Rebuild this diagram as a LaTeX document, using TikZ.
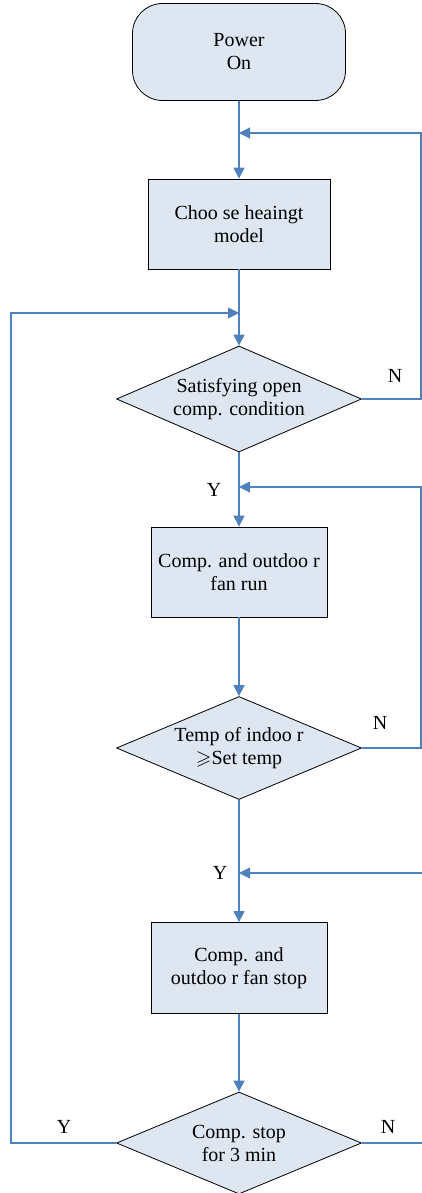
\documentclass[tikz,border=0pt]{standalone}
\usepackage{amssymb}
\usepackage{fontspec}
\setmainfont{Liberation Serif}
\usetikzlibrary{arrows.meta,shapes.geometric}
\definecolor{BoxFill}{RGB}{222,230,242}
\definecolor{LineBlue}{RGB}{79,129,189}

\begin{document}
\begin{tikzpicture}[x=1pt, y=-1pt,
    every node/.style={font=\fontsize{20}{23}\selectfont},
    termbox/.style={draw, line width=0.8pt, fill=BoxFill, rounded corners=30pt, minimum width=213pt, minimum height=97pt, align=center},
    procbox/.style={draw, line width=0.8pt, fill=BoxFill, minimum width=176pt, minimum height=90pt, align=center},
    decbox/.style={draw, line width=0.8pt, diamond, aspect=2.3, inner sep=0pt, fill=BoxFill, minimum width=245pt, minimum height=104pt, align=center},
    flow/.style={LineBlue, line width=1.1pt, -{Triangle[length=11pt,width=11pt]}},
    plain/.style={LineBlue, line width=1.1pt}]
        \useasboundingbox (0,0) rectangle (422,1193);
        % nodes
        \node[termbox] (pwr) at (239,52) {Power\\On};
        \node[procbox, minimum width=182pt] (choose) at (239,224) {Choo se heaingt\\model};
        \node[decbox, minimum height=106pt] (cond) at (239,399) {Satisfying open\\comp. condition};
        \node[procbox] (run) at (239,572) {Comp. and outdoo r\\fan run};
        \node[decbox, minimum height=103pt] (temp) at (239,748) {Temp of indoo r\\$\geqslant$Set temp};
        \node[procbox, minimum height=91pt] (stop) at (239,968) {Comp. and\\outdoo r fan stop};
        \node[decbox, minimum height=102pt] (wait) at (239,1143) {Comp. stop\\for 3 min};
        % loop points
        \coordinate (j0) at (239,313); \coordinate (l0) at (11,313);
        \coordinate (j1) at (239,133); \coordinate (r1) at (421,133);
        \coordinate (j2) at (239,487); \coordinate (r2) at (421,487);
        \coordinate (j3) at (239,873); \coordinate (r3) at (422,873);
        \coordinate (r4) at (422,1143);
        % main flow
        \draw[flow] (pwr) -- (choose);
        \draw[flow] (choose) -- (cond);
        \draw[flow] (cond) -- (run);
        \draw[flow] (run) -- (temp);
        \draw[flow] (temp) -- (stop);
        \draw[flow] (stop) -- (wait);
        % loops
        \draw[flow] (cond.east) -| (r1) -- (j1);
        \draw[flow] (temp.east) -| (r2) -- (j2);
        \draw[flow] (wait.west) -| (l0) -- (j0);
        \draw[flow] (r3) -- (j3);
        \draw[plain] (wait.east) -- (r4);
        % labels
        \node (n1) at (395,376) {N};
        \node (y1) at (214,490) {Y};
        \node (n2) at (380,723) {N};
        \node (y2) at (220,873) {Y};
        \node (y3) at (64,1127) {Y};
        \node (n3) at (388,1127) {N};
\end{tikzpicture}
\end{document}
